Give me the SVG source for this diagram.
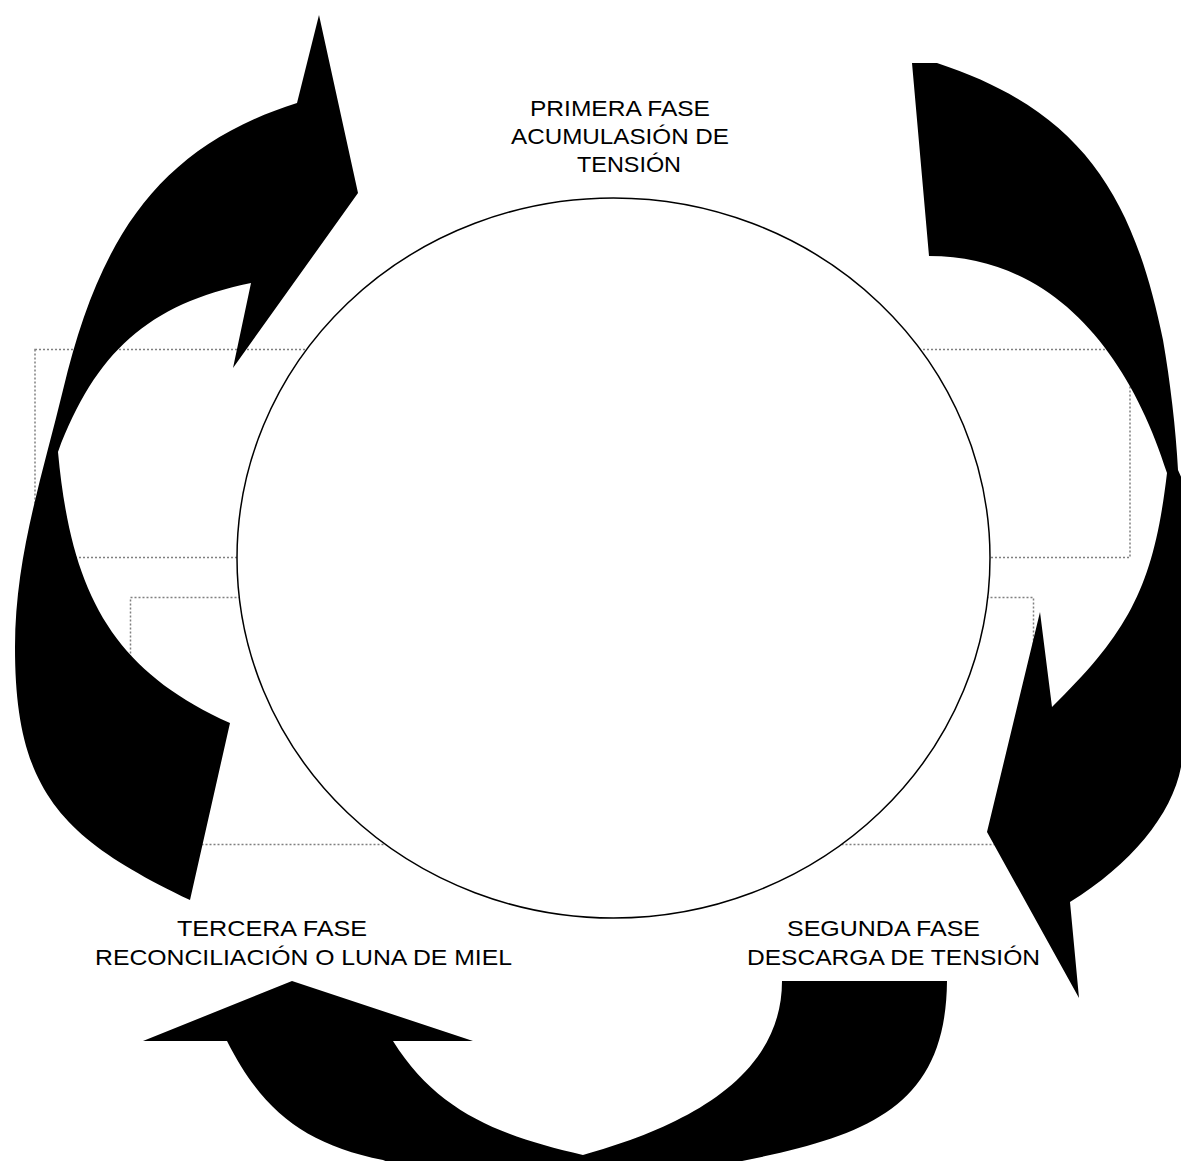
<svg xmlns="http://www.w3.org/2000/svg" width="1181" height="1161" viewBox="0 0 1181 1161">
<style>
.box{fill:none;stroke:#808080;stroke-width:1.5;stroke-dasharray:2 2}
.ring{fill:#fff;stroke:#000;stroke-width:1.5}
.arrow{fill:#000;stroke:none}
.lbl{font-family:"Liberation Sans",Arial,sans-serif;font-size:22px;fill:#000}
</style>
<rect width="1181" height="1161" fill="#fff"/>
<g id="frames">
<rect class="box" x="35" y="349.5" width="1095" height="208"/>
<rect class="box" x="130.5" y="597.5" width="903" height="247"/>
</g>
<g id="cycle-circle">
<ellipse class="ring" cx="613.5" cy="558" rx="376.5" ry="360"/>
</g>
<g id="connectors">
<path id="arrow-left" class="arrow" d="M297,103 C154,148 98,244 63,390 C42,477 15,557 15,647 C15,790 60,838 190,900 L230,723 C112,670 71,593 58,452 C95,353 148,304 251,283 L233,368 L358,193 L319,15 Z"/>
<path id="arrow-right" class="arrow" d="M912,63 L937,63 C1080,110 1133,193 1163,340 C1170,380 1176,430 1178,470 L1200,520 L1200,740 L1181,767 C1172,815 1130,865 1070,902 L1079,998 L987,832 L1040,612 L1052,707 C1131,630 1154,583 1167,473 C1129.5,354 1054,256 929,256 Z"/>
<path id="arrow-bottom" class="arrow" d="M292,981 L473,1041 L393,1041 C438,1113 501,1136 583,1155 C680,1128 782,1080 782,981 L947,981 C946,1106 869,1135 747,1160 L650,1180 L583,1190 L420,1175 L383,1160 C305,1144 263,1112 227,1041 L143,1041 Z"/>
</g>
<g id="phase-1">
<text class="lbl" x="530" y="116" textLength="180" lengthAdjust="spacingAndGlyphs">PRIMERA FASE</text>
<text class="lbl" x="511" y="144" textLength="218" lengthAdjust="spacingAndGlyphs">ACUMULASIÓN DE</text>
<text class="lbl" x="577" y="172" textLength="104" lengthAdjust="spacingAndGlyphs">TENSIÓN</text>
</g>
<g id="phase-2">
<text class="lbl" x="787" y="936" textLength="193" lengthAdjust="spacingAndGlyphs">SEGUNDA FASE</text>
<text class="lbl" x="747" y="965" textLength="293" lengthAdjust="spacingAndGlyphs">DESCARGA DE TENSIÓN</text>
</g>
<g id="phase-3">
<text class="lbl" x="177" y="936" textLength="190" lengthAdjust="spacingAndGlyphs">TERCERA FASE</text>
<text class="lbl" x="95" y="965" textLength="417" lengthAdjust="spacingAndGlyphs">RECONCILIACIÓN O LUNA DE MIEL</text>
</g>
</svg>
